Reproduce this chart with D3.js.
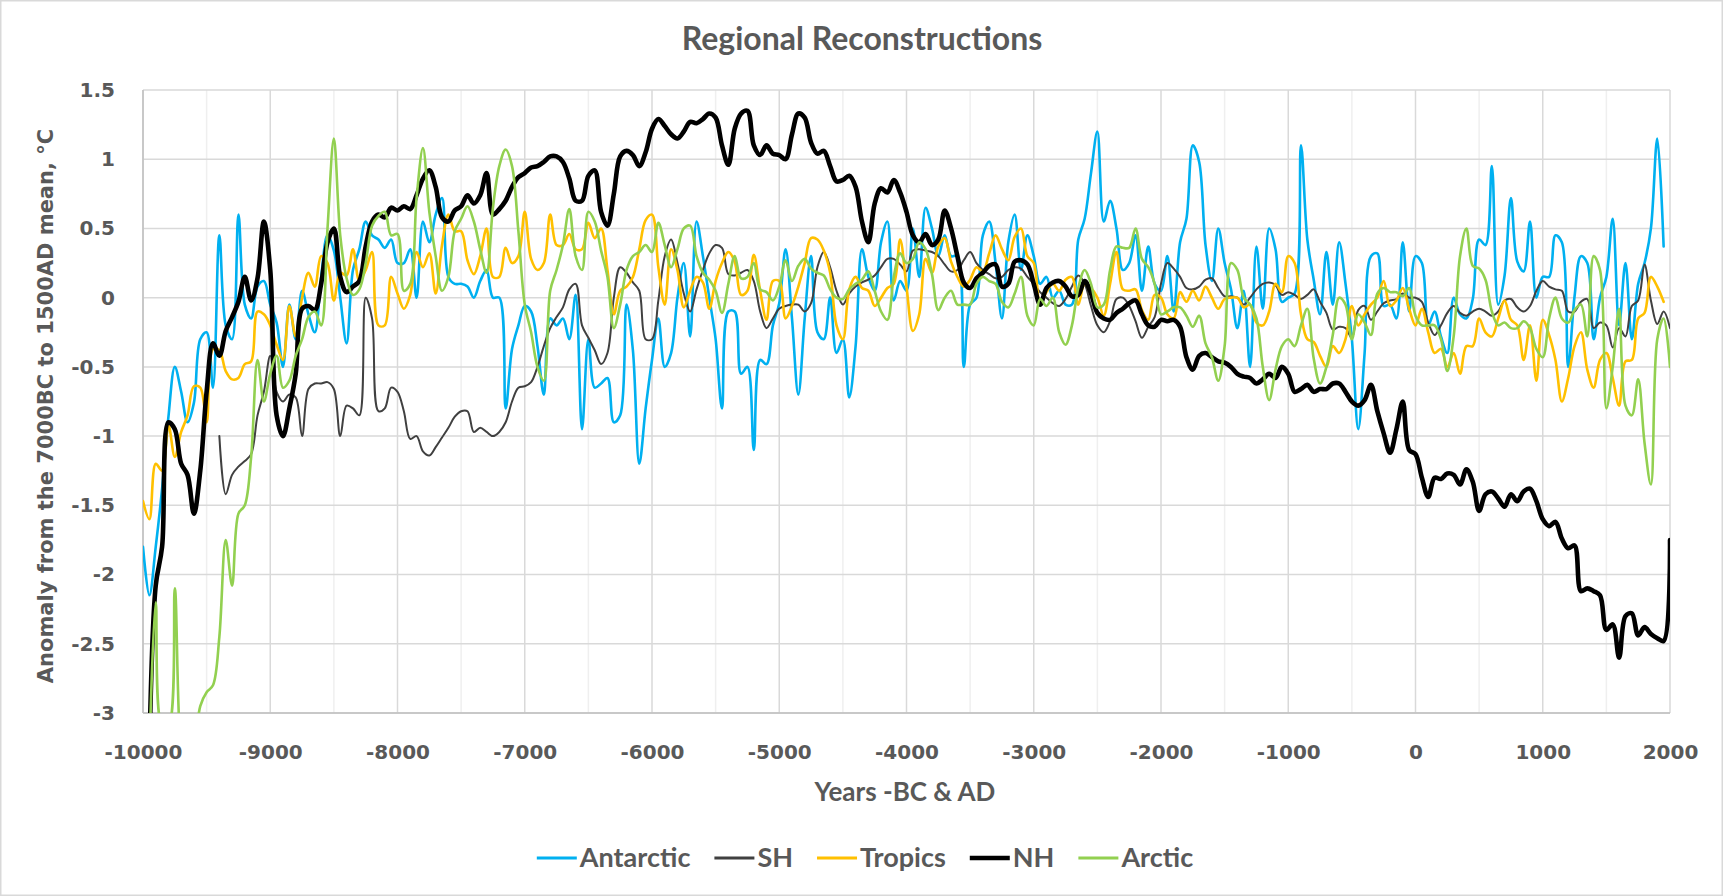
<!DOCTYPE html>
<html>
<head>
<meta charset="utf-8">
<script src="https://cdn.jsdelivr.net/npm/d3@7"></script>
<style>
  body { margin: 0; background: #fff; }
  svg { display: block; }
</style>
</head>
<body>
<div id="chart"></div>
<script>
// Years on the x axis, one reading every 50 years
const years = d3.range(-10000, 2001, 50);

const xTicks = [-10000, -9000, -8000, -7000, -6000, -5000, -4000, -3000, -2000, -1000, 0, 1000, 2000];
const yTicks = [1.5, 1, 0.5, 0, -0.5, -1, -1.5, -2, -2.5, -3];

// Series values (null = no data)
const antarctic = [
  -1.8, -2.15, -1.8, -1.38, -0.86, -0.5, -0.68, -0.9, -0.76, -0.3, -0.25, -0.65, 0.45, -0.2, -0.3, 0.6, -0.05, -0.15, 0.08, 0.12,
  -0.05, -0.18, -0.5, -0.05, -0.3, 0.05, -0.12, -0.25, 0.15, 0.45, 0.34, 0.0, -0.33, 0.2, 0.35, 0.55, 0.45, 0.42, 0.36, 0.42, 0.25,
  0.25, 0.35, 0.0, 0.55, 0.4, 0.6, 0.72, 0.15, 0.1, 0.1, 0.08, 0.0, 0.12, 0.2, 0.0, 0.0, -0.8, -0.37, -0.2, -0.06,
  -0.1, -0.35, -0.7, -0.15, -0.2, -0.15, -0.3, 0.02, -0.95, -0.3, -0.65, -0.62, -0.58, -0.9, -0.85, -0.05, -0.38, -1.2, -0.8, -0.45,
  -0.15, -0.5, -0.4, 0.0, 0.25, -0.28, 0.55, 0.3, 0.0, -0.3, -0.8, -0.1, -0.1, -0.55, -0.5, -1.1, -0.45, -0.48, -0.2, -0.04,
  0.35, -0.15, -0.7, -0.15, 0.3, -0.25, -0.3, 0.0, -0.4, -0.3, -0.72, -0.35, 0.35, 0.15, 0.05, 0.4, 0.55, -0.02, 0.12, 0.05,
  0.5, 0.15, 0.65, 0.5, 0.3, 0.45, 0.3, 0.3, -0.5, -0.05, 0.0, 0.45, 0.55, 0.25, -0.15, 0.4, 0.6, 0.2, 0.45, 0.3,
  0.1, 0.15, 0.0, 0.05, -0.05, -0.05, 0.42, 0.57, 0.9, 1.2, 0.55, 0.7, 0.5, 0.2, 0.25, 0.45, 0.05, 0.37, 0.1, 0.05,
  0.3, -0.1, 0.4, 0.57, 1.1, 0.98, 0.38, 0.12, 0.5, 0.25, 0.06, -0.22, 0.05, -0.5, 0.37, -0.08, 0.5, 0.35, -0.03, 0.0,
  0.03, 1.1, 0.42, 0.13, -0.12, 0.33, -0.05, 0.4, 0.1, -0.3, -0.95, -0.4, 0.3, 0.32, -0.06, -0.05, -0.15, 0.4, -0.1, 0.3,
  0.25, -0.2, -0.1, -0.28, -0.4, 0.0, -0.12, -0.15, -0.01, 0.42, 0.38, 0.95, -0.05, 0.16, 0.72, 0.26, 0.19, 0.55, 0.0, 0.15,
  0.15, 0.45, 0.4, -0.5, 0.01, 0.3, 0.25, -0.3, 0.0, 0.15, 0.57, -0.2, 0.25, -0.3, 0.1, 0.25, 0.5, 1.15, 0.37, null
];

const sh = [
  null, null, null, null, null, null, null, null, null, null, null, null,
  -1.0, -1.42, -1.28, -1.22, -1.18, -1.13, -0.85, -0.68, -0.42, -0.68, -0.75, -0.7, -0.72, -1.0, -0.66, -0.62, -0.62, -0.61,
  -0.66, -1.0, -0.78, -0.8, -0.85, 0.0, -0.15, -0.82, -0.8, -0.65, -0.68,
  -0.82, -1.02, -1.0, -1.11, -1.14, -1.08, -1.01, -0.94, -0.86, -0.82, -0.82, -0.97, -0.94, -0.97, -1.0, -0.97, -0.9, -0.75, -0.65, -0.64,
  -0.61, -0.5, -0.35, -0.22, -0.14, -0.07, 0.06, 0.1, -0.2, -0.29, -0.38, -0.48, -0.4, 0.0, 0.22, 0.18, 0.11, 0.05, -0.3, -0.3,
  -0.02, 0.3, 0.42, 0.25, 0.03, -0.1, 0.06, 0.2, 0.32, 0.38, 0.36, 0.17, 0.16, 0.18, 0.2, 0.12, -0.1, -0.22, -0.15, -0.08,
  -0.06, -0.05, -0.05, -0.1, -0.04, 0.22, 0.33, 0.22, 0.05, -0.05, 0.03, 0.08, 0.11, 0.13, 0.16, 0.22, 0.28, 0.28, 0.24, 0.19,
  0.34, 0.35, 0.34, 0.33, 0.3, 0.24, 0.19, 0.2, 0.27, 0.33, 0.25, 0.2, 0.17, 0.14, 0.15, 0.2, 0.22, 0.21, 0.15, 0.1,
  0.04, 0.0, -0.04, -0.06, -0.01, 0.08, 0.16, 0.1, -0.06, -0.2, -0.25, -0.17, -0.01, 0.0, -0.06, -0.17, -0.29, -0.21, -0.14, 0.1,
  0.25, 0.21, 0.15, 0.07, 0.06, 0.08, 0.13, 0.14, 0.07, 0.01, 0.01, 0.0, -0.05, 0.0, 0.06, 0.1, 0.11, 0.09, 0.02, 0.04,
  0.02, -0.01, 0.02, 0.06, -0.03, -0.11, -0.23, -0.21, -0.22, -0.29, -0.09, -0.06, -0.16, -0.1, -0.04, -0.02, -0.01, 0.03, 0.0, 0.0,
  -0.03, -0.18, -0.27, -0.2, -0.11, -0.06, -0.11, -0.13, -0.1, -0.08, -0.1, -0.13, -0.1, -0.02, -0.01, -0.07, -0.1, -0.06, 0.05, 0.12,
  0.08, 0.06, 0.05, -0.1, -0.1, -0.03, -0.01, -0.22, -0.18, -0.2, -0.36, -0.22, -0.28, -0.06, -0.02, 0.24, -0.02, -0.19, -0.1, -0.22
];

const tropics = [
  -1.47, -1.6, -1.2, -1.25, -0.92, -1.15, -0.97, -0.85, -0.64, -0.65, -0.9, -0.37, -0.38, -0.53, -0.59, -0.58, -0.48, -0.46, -0.1, -0.12,
  -0.2, -0.34, -0.45, -0.06, -0.28, 0.0, 0.18, 0.08, 0.3, 0.25, -0.02, 0.18, 0.16, 0.35, 0.12, 0.2, 0.33, -0.2, -0.2, 0.15, 0.03,
  -0.08, 0.02, 0.33, 0.22, 0.32, 0.03, 0.38, 0.6, 0.48, 0.48, 0.27, 0.17, 0.3, 0.5, 0.15, 0.15, 0.36, 0.25, 0.3, 0.62,
  0.28, 0.2, 0.25, 0.6, 0.38, 0.38, 0.46, 0.35, 0.35, 0.54, 0.43, 0.5, 0.2, -0.12, 0.05, 0.08, 0.15, 0.35, 0.56, 0.6,
  0.22, -0.05, 0.35, 0.2, -0.07, 0.05, 0.15, 0.11, -0.08, 0.12, 0.25, 0.33, 0.26, 0.02, 0.05, 0.31, 0.05, -0.16, 0.12, 0.12,
  -0.15, -0.06, 0.08, 0.25, 0.43, 0.42, 0.34, 0.18, -0.2, -0.3, 0.06, 0.15, 0.07, 0.05, -0.06, 0.0, 0.07, 0.1, 0.42, 0.08,
  -0.24, -0.12, 0.28, 0.18, 0.37, 0.43, 0.26, 0.15, 0.08, 0.13, 0.22, 0.19, 0.32, 0.45, 0.35, 0.27, 0.44, 0.5, 0.3, 0.25,
  -0.04, 0.04, 0.1, 0.05, 0.13, 0.15, -0.05, 0.1, 0.07, 0.0, -0.13, 0.1, 0.33, 0.06, 0.05, 0.06, -0.09, -0.16, 0.02, 0.0,
  -0.12, -0.15, 0.04, -0.03, 0.05, -0.02, 0.08, 0.0, -0.08, -0.01, 0.0, 0.0, -0.07, -0.05, -0.18, -0.2, -0.1, 0.1, 0.04, 0.3,
  0.25, -0.12, -0.3, -0.32, -0.42, -0.5, -0.35, -0.4, -0.3, -0.06, -0.2, -0.12, -0.05, 0.0, 0.12, -0.06, -0.02, 0.07, -0.08, -0.2,
  -0.08, -0.25, -0.4, -0.37, -0.5, -0.4, -0.55, -0.35, -0.35, -0.15, -0.25, -0.28, -0.15, -0.02, -0.16, -0.2, -0.45, -0.2, -0.6, -0.16,
  -0.27, -0.45, -0.75, -0.58, -0.35, -0.25, -0.52, -0.65, -0.45, -0.4, -0.58, -0.78, -0.46, -0.45, -0.15, -0.11, 0.15, 0.08, -0.03, null
];

const nh = [
  null, -3.3, -2.08, -1.8, -0.9, -0.95, -1.2, -1.28, -1.56, -1.25, -0.68, -0.33, -0.42, -0.24, -0.14, -0.03, 0.15, -0.02, 0.14, 0.55,
  0.2, -0.85, -1.0, -0.8, -0.55, -0.08, -0.06, -0.09, 0.1, 0.4, 0.5, 0.15, 0.04, 0.08, 0.12, 0.37, 0.55, 0.6, 0.58, 0.65, 0.63,
  0.66, 0.64, 0.74, 0.86, 0.92, 0.8, 0.58, 0.55, 0.63, 0.66, 0.74, 0.68, 0.74, 0.9, 0.6, 0.64, 0.7, 0.8, 0.87, 0.9,
  0.94, 0.95, 0.98, 1.02, 1.02, 0.98, 0.86, 0.7, 0.7, 0.88, 0.92, 0.62, 0.52, 0.75, 1.02, 1.06, 1.03, 0.95, 1.05, 1.22,
  1.29, 1.24, 1.18, 1.15, 1.2, 1.27, 1.26, 1.29, 1.33, 1.3, 1.1, 0.96, 1.22, 1.33, 1.35, 1.1, 1.03, 1.1, 1.04, 1.03,
  1.0, 1.18, 1.33, 1.3, 1.12, 1.04, 1.06, 0.95, 0.84, 0.85, 0.88, 0.8, 0.55, 0.4, 0.68, 0.79, 0.76, 0.85, 0.76, 0.62,
  0.45, 0.4, 0.46, 0.38, 0.42, 0.63, 0.5, 0.3, 0.11, 0.07, 0.14, 0.18, 0.23, 0.24, 0.08, 0.1, 0.26, 0.27, 0.24, 0.1,
  -0.05, 0.07, 0.11, 0.12, 0.08, 0.01, 0.02, 0.12, 0.03, -0.11, -0.15, -0.16, -0.11, -0.08, -0.04, -0.02, -0.12, -0.2, -0.21, -0.16,
  -0.17, -0.16, -0.21, -0.43, -0.52, -0.42, -0.4, -0.43, -0.46, -0.47, -0.5, -0.55, -0.57, -0.58, -0.62, -0.59, -0.55, -0.58, -0.5, -0.55,
  -0.68, -0.66, -0.63, -0.68, -0.66, -0.66, -0.62, -0.62, -0.68, -0.75, -0.78, -0.74, -0.63, -0.82, -0.98, -1.12, -0.95, -0.75, -1.1, -1.13,
  -1.3, -1.44, -1.3, -1.31, -1.27, -1.28, -1.35, -1.24, -1.33, -1.54, -1.42, -1.4, -1.45, -1.51, -1.42, -1.47, -1.4, -1.38, -1.47, -1.6,
  -1.65, -1.62, -1.74, -1.81, -1.79, -2.12, -2.1, -2.12, -2.15, -2.4, -2.36, -2.6, -2.3, -2.28, -2.44, -2.38, -2.43, -2.46, -2.48, -1.75
];

const arctic = [
  null, -3.3, -2.2, -3.1, -3.1, -2.1, -3.3, -3.5, -3.3, -2.95, -2.85, -2.8, -2.45, -1.75, -2.08, -1.56, -1.5, -1.15, -0.45, -0.75,
  -0.55, -0.42, -0.65, -0.6, -0.42, -0.3, -0.14, -0.1, -0.2, 0.5, 1.15, 0.45, 0.14, 0.02, 0.06, 0.25, 0.52, 0.59, 0.62, 0.45, 0.46,
  0.05, 0.1, 0.72, 1.08, 0.62, 0.3, 0.05, 0.15, 0.48, 0.57, 0.66, 0.55, 0.35, 0.18, 0.65, 0.95, 1.07, 0.95, 0.48, -0.05,
  -0.25, -0.5, -0.6, 0.05, 0.2, 0.38, 0.64, 0.3, 0.2, 0.62, 0.55, 0.34, 0.15, -0.22, -0.05, 0.2, 0.3, 0.33, 0.38, 0.33,
  0.54, 0.38, 0.22, 0.35, 0.5, 0.52, 0.3, 0.18, 0.13, 0.05, -0.11, 0.1, 0.3, 0.14, 0.15, 0.25, 0.06, 0.04, -0.02, 0.08,
  0.27, 0.12, 0.23, 0.28, 0.21, 0.18, 0.16, 0.06, 0.0, -0.01, 0.06, 0.1, 0.13, 0.19, 0.05, -0.1, -0.16, 0.15, 0.32, 0.25,
  0.28, 0.4, 0.35, 0.17, -0.09, 0.0, 0.05, -0.05, -0.05, -0.05, 0.1, 0.15, 0.12, 0.1, -0.03, -0.07, 0.03, 0.15, -0.13, -0.2,
  -0.01, -0.06, 0.0, -0.25, -0.34, -0.2, 0.07, 0.2, 0.1, -0.07, -0.05, 0.2, 0.37, 0.36, 0.36, 0.5, 0.28, 0.22, 0.1, -0.12,
  -0.1, -0.07, -0.07, -0.13, -0.21, -0.13, -0.33, -0.43, -0.6, -0.35, 0.25, 0.2, 0.0, -0.05, -0.15, -0.5, -0.74, -0.52, -0.35, -0.3,
  -0.35, -0.2, -0.08, -0.44, -0.62, -0.5, -0.27, 0.0, -0.05, -0.3, -0.12, -0.18, -0.27, 0.03, 0.07, 0.04, 0.04, 0.01, 0.07, -0.13,
  -0.2, -0.2, -0.2, -0.3, -0.53, -0.28, 0.3, 0.5, 0.23, 0.21, 0.13, -0.1, -0.2, -0.18, -0.22, -0.22, -0.17, -0.22, -0.37, -0.43,
  -0.15, 0.0, -0.15, -0.18, -0.09, -0.05, -0.28, 0.3, 0.2, -0.8, -0.5, -0.08, -0.78, -0.85, -0.59, -1.05, -1.35, -0.3, -0.15, -0.5
];

const seriesNames = ["Antarctic", "SH", "Tropics", "NH", "Arctic"];
const seriesValues = [antarctic, sh, tropics, nh, arctic];

const chartColors = {
  Antarctic: "#00B0F0",
  SH: "#404040",
  Tropics: "#FFC000",
  NH: "#000000",
  Arctic: "#92D050"
};
const lineWidths = { Antarctic: 2.6, SH: 2, Tropics: 2.6, NH: 4.6, Arctic: 2.6 };

const regionalChart = () => {
  // Constants
  let width = 1723;
  let height = 896;
  let plot = { left: 143, right: 1670, top: 90, bottom: 713 };
  let textColor = "#595959";

  let svg = d3.select("#chart")
    .append("svg")
      .attr("width", width)
      .attr("height", height);

  // Outer border
  svg.append("rect")
    .attr("x", 0.75).attr("y", 0.75)
    .attr("width", width - 1.5).attr("height", height - 1.5)
    .attr("fill", "#fff")
    .attr("stroke", "#D9D9D9")
    .attr("stroke-width", 1.5);

  let x = d3.scaleLinear().domain([-10000, 2000]).range([plot.left, plot.right]);
  let y = d3.scaleLinear().domain([-3, 1.5]).range([plot.bottom, plot.top]);

  // Grid lines
  let minorX = d3.range(-9500, 2000, 1000);
  svg.append("g")
    .selectAll("line")
    .data(minorX)
    .enter().append("line")
      .attr("x1", d => x(d)).attr("x2", d => x(d))
      .attr("y1", plot.top).attr("y2", plot.bottom)
      .attr("stroke", "#EFEFEF")
      .attr("stroke-width", 1.5);

  svg.append("g")
    .selectAll("line")
    .data(xTicks)
    .enter().append("line")
      .attr("x1", d => x(d)).attr("x2", d => x(d))
      .attr("y1", plot.top).attr("y2", plot.bottom)
      .attr("stroke", "#D9D9D9")
      .attr("stroke-width", 1.5);

  svg.append("g")
    .selectAll("line")
    .data(yTicks)
    .enter().append("line")
      .attr("x1", plot.left).attr("x2", plot.right)
      .attr("y1", d => y(d)).attr("y2", d => y(d))
      .attr("stroke", "#D9D9D9")
      .attr("stroke-width", 1.5);

  // Axis lines
  svg.append("line")
    .attr("x1", plot.left).attr("x2", plot.left)
    .attr("y1", plot.top).attr("y2", plot.bottom)
    .attr("stroke", "#BFBFBF").attr("stroke-width", 1.5);
  svg.append("line")
    .attr("x1", plot.left).attr("x2", plot.right)
    .attr("y1", plot.bottom).attr("y2", plot.bottom)
    .attr("stroke", "#BFBFBF").attr("stroke-width", 1.5);

  // Tick labels through d3 axes (plain hyphen for negatives)
  let xAxis = svg.append("g")
    .attr("transform", "translate(0," + plot.bottom + ")")
    .call(d3.axisBottom(x).tickValues(xTicks).tickSize(0).tickPadding(46).tickFormat(d => String(d)));
  let yAxis = svg.append("g")
    .attr("transform", "translate(" + plot.left + ",0)")
    .call(d3.axisLeft(y).tickValues(yTicks).tickSize(0).tickPadding(28).tickFormat(d => String(d)));

  [xAxis, yAxis].forEach(ax => {
    ax.select(".domain").remove();
    ax.selectAll("text")
      .attr("fill", textColor)
      .style("font-family", "'DejaVu Sans', Verdana, sans-serif")
      .style("font-weight", "bold")
      .style("font-size", "20px");
  });
  xAxis.selectAll("text").attr("dy", "0");

  // Clip for the series
  svg.append("clipPath")
    .attr("id", "plot-clip")
    .append("rect")
      .attr("x", plot.left).attr("y", plot.top)
      .attr("width", plot.right - plot.left).attr("height", plot.bottom - plot.top);

  let line = d3.line()
    .defined(d => d.value !== null)
    .x(d => x(d.year))
    .y(d => y(d.value))
    .curve(d3.curveCatmullRom.alpha(0.5));

  let lines = svg.append("g").attr("clip-path", "url(#plot-clip)");
  seriesNames.forEach((name, i) => {
    let data = years.map((yr, j) => ({ year: yr, value: seriesValues[i][j] }));
    lines.append("path")
      .datum(data)
      .attr("d", line)
      .attr("fill", "none")
      .attr("stroke", chartColors[name])
      .attr("stroke-width", lineWidths[name])
      .attr("stroke-linejoin", "round")
      .attr("stroke-linecap", "round");
  });

  // Title and axis titles
  svg.append("text")
    .attr("x", 862).attr("y", 50)
    .attr("text-anchor", "middle")
    .attr("fill", textColor)
    .style("font-family", "Lato, sans-serif")
    .style("font-weight", "bold")
    .style("font-size", "32px")
    .text("Regional Reconstructions");

  svg.append("text")
    .attr("x", 905).attr("y", 801)
    .attr("text-anchor", "middle")
    .attr("fill", textColor)
    .style("font-family", "Lato, sans-serif")
    .style("font-weight", "bold")
    .style("font-size", "26px")
    .text("Years -BC & AD");

  svg.append("text")
    .attr("transform", "translate(53,406) rotate(-90)")
    .attr("text-anchor", "middle")
    .attr("fill", textColor)
    .style("font-family", "'DejaVu Sans', Verdana, sans-serif")
    .style("font-weight", "bold")
    .style("font-size", "21px")
    .text("Anomaly from the 7000BC to 1500AD mean, °C");

  // Legends
  let legend = svg.append("g");
  let lx = 0;
  seriesNames.forEach(name => {
    let item = legend.append("g").attr("transform", "translate(" + lx + ",0)");
    item.append("line")
      .attr("x1", 0).attr("x2", 40)
      .attr("y1", 0).attr("y2", 0)
      .attr("stroke", chartColors[name])
      .attr("stroke-width", name === "NH" ? 4.6 : 3);
    let t = item.append("text")
      .attr("x", 43).attr("y", 9)
      .attr("fill", textColor)
      .style("font-family", "Lato, sans-serif")
      .style("font-weight", "bold")
      .style("font-size", "27px")
      .text(name);
    lx += 43 + t.node().getComputedTextLength() + 24;
  });
  let legendWidth = lx - 24;
  legend.attr("transform", "translate(" + (865 - legendWidth / 2) + ",858)");
};

regionalChart();
</script>
</body>
</html>
